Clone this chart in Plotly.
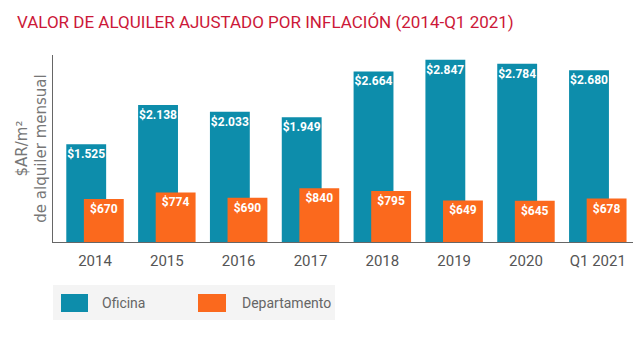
import plotly.graph_objects as go

categories = ["2014", "2015", "2016", "2017", "2018", "2019", "2020", "Q1 2021"]
oficina = [1525, 2138, 2033, 1949, 2664, 2847, 2784, 2680]
departamento = [670, 774, 690, 840, 795, 649, 645, 678]
series_names = ["Oficina", "Departamento"]

TEAL = "#0d8dab"
ORANGE = "#fb691d"

fig = go.Figure()
for name, vals, color, off in [(series_names[0], oficina, TEAL, -0.40),
                               (series_names[1], departamento, ORANGE, -0.155)]:
    fig.add_trace(go.Bar(
        x=categories, y=vals, name=name,
        marker=dict(color=color, line=dict(width=0)),
        width=0.555, offset=off,
        texttemplate="$%{y:,}", textposition="inside", insidetextanchor="end",
        textangle=0,
        textfont=dict(family="Roboto", size=12, color="white", weight="bold"),
    ))

# Manual legend (plot-area paper coords: x 53..633 px, y 242..55 px)
def px_x(p):
    return (p - 53) / 580
def px_y(p):
    return (242 - p) / 187

shapes = [
    dict(type="rect", xref="paper", yref="paper",
         x0=px_x(53), x1=px_x(335), y0=px_y(320), y1=px_y(285),
         fillcolor="#f4f4f4", line=dict(width=0), layer="below"),
    dict(type="rect", xref="paper", yref="paper",
         x0=px_x(61), x1=px_x(88), y0=px_y(312), y1=px_y(294),
         fillcolor=TEAL, line=dict(width=0)),
    dict(type="rect", xref="paper", yref="paper",
         x0=px_x(198), x1=px_x(226), y0=px_y(312), y1=px_y(294),
         fillcolor=ORANGE, line=dict(width=0)),
]
annotations = [
    dict(xref="paper", yref="paper", x=px_x(100), y=px_y(303), xanchor="left",
         yanchor="middle", text=series_names[0], showarrow=False,
         font=dict(family="Roboto", size=14, color="#666")),
    dict(xref="paper", yref="paper", x=px_x(240), y=px_y(303), xanchor="left",
         yanchor="middle", text=series_names[1], showarrow=False,
         font=dict(family="Roboto", size=14, color="#666")),
]

fig.update_layout(
    width=640, height=338,
    margin=dict(l=53, r=7, t=55, b=96),
    paper_bgcolor="white", plot_bgcolor="white",
    barmode="overlay",
    separators=",.",
    uniformtext=dict(minsize=12, mode="show"),
    showlegend=False,
    shapes=shapes,
    annotations=annotations,
    title=dict(
        text="VALOR DE ALQUILER AJUSTADO POR INFLACIÓN (2014-Q1 2021)",
        x=17/640, xanchor="left", y=1-22/338, yanchor="middle",
        font=dict(family="Roboto", size=17, color="#cc1838"),
    ),
    xaxis=dict(
        type="category", range=[-0.585, 7.49],
        showline=True, linecolor="#666", linewidth=1,
        ticks="", showgrid=False, ticklabelstandoff=5,
        tickfont=dict(family="Roboto", size=15, color="#555"),
    ),
    yaxis=dict(
        range=[0, 2920], showline=True, linecolor="#666", linewidth=1,
        showticklabels=False, ticks="", showgrid=False, zeroline=False,
        title=dict(text="$AR/m²<br>de alquiler mensual", standoff=1,
                   font=dict(family="DejaVu Sans", size=15, color="#777")),
    ),
)

fig.write_html("out.html")
